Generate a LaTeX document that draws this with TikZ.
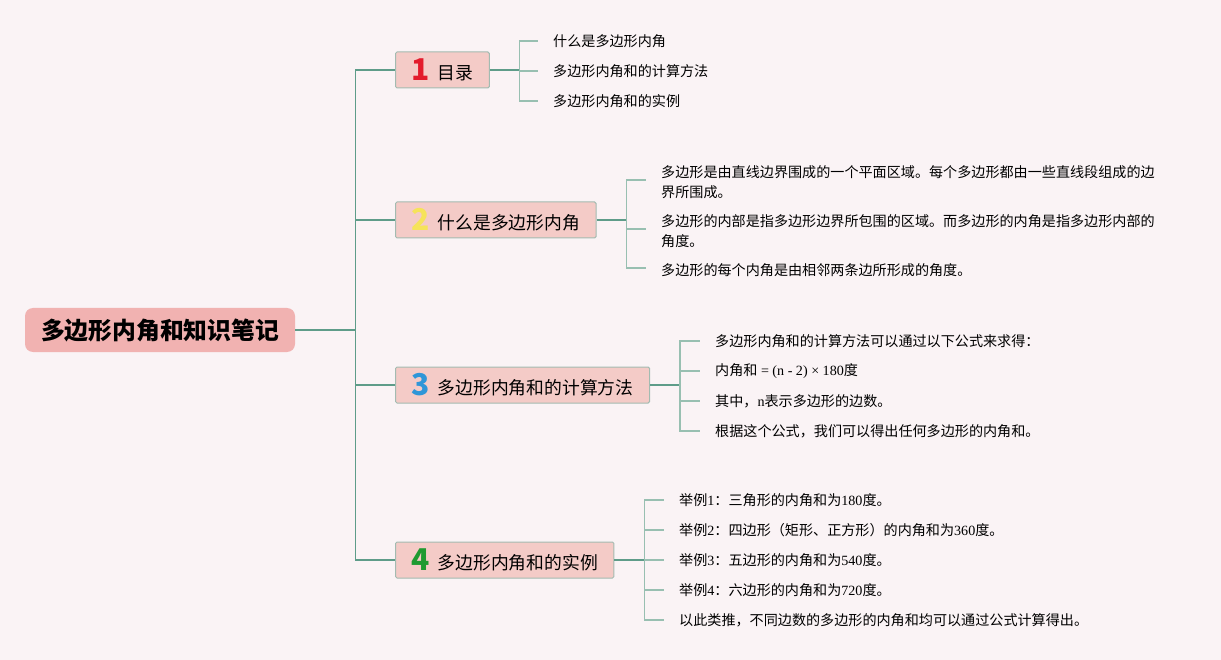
\documentclass[tikz,border=0pt]{standalone}
\usepackage{fontspec}
\setmainfont{Noto Sans CJK SC}
\newfontfamily\latin{Liberation Serif}
\usetikzlibrary{positioning}

\definecolor{bgpink}{HTML}{FAF3F5}
\definecolor{rootfill}{HTML}{F1B2B1}
\definecolor{topicfill}{HTML}{F4CBC7}
\definecolor{topicline}{HTML}{A3BBB1}
\definecolor{trunkcol}{HTML}{5E9C89}
\definecolor{twigcol}{HTML}{98BFB1}
\definecolor{numred}{HTML}{E31B2C}
\definecolor{numyellow}{HTML}{F6E35A}
\definecolor{numblue}{HTML}{2F96D8}
\definecolor{numgreen}{HTML}{1F9A31}

\newcommand{\tnum}[2]{\raisebox{-1pt}{\color{#1}\fontsize{30}{30}\selectfont\bfseries #2}\hspace{8pt}}

\begin{document}
\begin{tikzpicture}[
        x=1pt, y=-1pt,
        root/.style={rectangle, rounded corners=8pt, fill=rootfill, inner xsep=16pt,
                     minimum height=44pt, font=\fontsize{23.8}{28}\selectfont\bfseries},
        topic/.style={draw=topicline, line width=1pt, rectangle, rounded corners=1.5pt,
                      fill=topicfill, inner xsep=16pt, minimum height=36pt, inner ysep=0pt,
                      font=\fontsize{17.8}{20}\selectfont},
        leaf/.style={anchor=west, inner sep=0pt, align=left,
                     font=\fontsize{14.1}{20}\selectfont},
        trunk/.style={draw=trunkcol, line width=1.4pt},
        twig/.style={draw=twigcol, line width=1.2pt}
    ]
        \fill[bgpink] (0,0) rectangle (1221,660);
        \useasboundingbox (0,0) rectangle (1221,660);

        \node[root] (root) at (160,330) {多边形内角和知识笔记};

        \node[topic, anchor=west] (toc) at (395,70) {\tnum{numred}{1}目录};
        \node[topic, anchor=west] (what) at (395,220) {\tnum{numyellow}{2}什么是多边形内角};
        \node[topic, anchor=west] (calc) at (395,385) {\tnum{numblue}{3}多边形内角和的计算方法};
        \node[topic, anchor=west] (demo) at (395,560) {\tnum{numgreen}{4}多边形内角和的实例};

        \node[leaf] (toc1) at (553,41) {什么是多边形内角};
        \node[leaf] (toc2) at (553,71) {多边形内角和的计算方法};
        \node[leaf] (toc3) at (553,101) {多边形内角和的实例};

        \node[leaf] (what1) at (661,182) {多边形是由直线边界围成的一个平面区域。每个多边形都由一些直线段组成的边\\界所围成。};
        \node[leaf] (what2) at (661,231) {多边形的内部是指多边形边界所包围的区域。而多边形的内角是指多边形内部的\\角度。};
        \node[leaf] (what3) at (661,270) {多边形的每个内角是由相邻两条边所形成的角度。};

        \node[leaf] (calc1) at (715,341) {多边形内角和的计算方法可以通过以下公式来求得：};
        \node[leaf] (calc2) at (715,371) {内角和{\latin{} = (n - 2) × 180}度};
        \node[leaf] (calc3) at (715,401) {其中，{\latin n}表示多边形的边数。};
        \node[leaf] (calc4) at (715,431) {根据这个公式，我们可以得出任何多边形的内角和。};

        \node[leaf] (demo1) at (679,500) {举例{\latin 1}：三角形的内角和为{\latin 180}度。};
        \node[leaf] (demo2) at (679,530) {举例{\latin 2}：四边形（矩形、正方形）的内角和为{\latin 360}度。};
        \node[leaf] (demo3) at (679,560) {举例{\latin 3}：五边形的内角和为{\latin 540}度。};
        \node[leaf] (demo4) at (679,590) {举例{\latin 4}：六边形的内角和为{\latin 720}度。};
        \node[leaf] (demo5) at (679,620) {以此类推，不同边数的多边形的内角和均可以通过公式计算得出。};

        \draw[trunk] (root.east) -- ++(60,0) coordinate (hub);
        \foreach \t in {toc,what,calc,demo}
            \draw[trunk] (hub) |- (\t.west);

        \draw[trunk] (toc.east) -- ++(30,0) coordinate (tocfork);
        \foreach \l in {toc1,toc2,toc3}
            \draw[twig] (tocfork) |- ([xshift=-15pt]\l.west);

        \draw[trunk] (what.east) -- ++(30,0) coordinate (whatfork);
        \foreach \l in {what1,what2,what3}
            \draw[twig] (whatfork) |- ([xshift=-15pt,yshift=2pt]\l.west);

        \draw[trunk] (calc.east) -- ++(30,0) coordinate (calcfork);
        \foreach \l in {calc1,calc2,calc3,calc4}
            \draw[twig] (calcfork) |- ([xshift=-15pt]\l.west);

        \draw[trunk] (demo.east) -- ++(30,0) coordinate (demofork);
        \foreach \l in {demo1,demo2,demo3,demo4,demo5}
            \draw[twig] (demofork) |- ([xshift=-15pt]\l.west);
    \end{tikzpicture}
\end{document}
